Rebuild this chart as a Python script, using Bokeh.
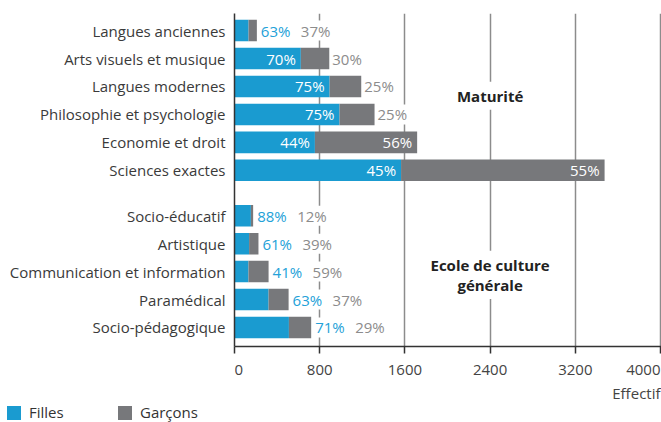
from bokeh.plotting import figure
from bokeh.models import (ColumnDataSource, Range1d, FixedTicker, LabelSet, Label, Div)
from bokeh.layouts import column
from bokeh.core.properties import value
from bokeh.embed import file_html
from bokeh.resources import INLINE

# ---------------- data ----------------
categories_maturite = ["Langues anciennes", "Arts visuels et musique", "Langues modernes",
                       "Philosophie et psychologie", "Economie et droit", "Sciences exactes"]
filles_maturite = [132, 623, 893, 986, 755, 1564]
garcons_maturite = [78, 267, 297, 329, 960, 1911]
pct_filles_maturite = ["63%", "70%", "75%", "75%", "44%", "45%"]
pct_garcons_maturite = ["37%", "30%", "25%", "25%", "56%", "55%"]

categories_ecg = ["Socio-éducatif", "Artistique", "Communication et information",
                  "Paramédical", "Socio-pédagogique"]
filles_ecg = [154, 137, 131, 320, 511]
garcons_ecg = [21, 88, 189, 188, 209]
pct_filles_ecg = ["88%", "61%", "41%", "63%", "71%"]
pct_garcons_ecg = ["12%", "39%", "59%", "37%", "29%"]

x_ticks = [0, 800, 1600, 2400, 3200, 4000]
x_tick_labels = ["0", "800", "1600", "2400", "3200", "4000"]
series_names = ["Filles", "Garçons"]
section_titles = ["Maturité", "Ecole de culture", "générale"]
x_axis_title = "Effectif"

# ---------------- styling / layout ----------------
FONT = "Open Sans"
FS = "15px"
BLUE = "#1a9bd0"
GRAY = "#77787b"
BLUE_TXT = "#23a1d8"
GRAY_TXT = "#8c8c8c"
DARK = "#333333"
GAP = 0.625          # extra space between the two groups (in row units)
INSIDE_MIN = 550     # segment large enough to hold its label inside
Y_TOP = -0.612
Y_BOTTOM = 10.625 + 0.68
W = 661
LEFT = 234
FRAME_W = W - LEFT
X_END = 4000 * FRAME_W / (FRAME_W - 1)
TOP_BORDER_BOTTOM = 12
TOP_H = 13 + 333 + TOP_BORDER_BOTTOM
LEG_H = 20
BOT_H = 422 - TOP_H - LEG_H

names = categories_maturite + categories_ecg
filles = filles_maturite + filles_ecg
garcons = garcons_maturite + garcons_ecg
pf = pct_filles_maturite + pct_filles_ecg
pg = pct_garcons_maturite + pct_garcons_ecg
pos = [float(i) for i in range(len(categories_maturite))] + \
      [len(categories_maturite) + GAP + j for j in range(len(categories_ecg))]
total = [f + g for f, g in zip(filles, garcons)]

src = ColumnDataSource(dict(pos=pos, filles=filles, garcons=garcons, name=names))

x_range = Range1d(0, X_END)
p = figure(width=W, height=TOP_H, output_backend="svg", toolbar_location=None,
           x_range=x_range, y_range=Range1d(Y_BOTTOM, Y_TOP),
           min_border_left=LEFT, min_border_right=0, min_border_top=13,
           min_border_bottom=TOP_BORDER_BOTTOM)
p.outline_line_color = None
p.background_fill_color = "white"
p.border_fill_color = "white"

rs = p.hbar_stack(["filles", "garcons"], y="pos", height=0.77, source=src,
                  fill_color=[BLUE, GRAY], line_color=None)

# axes (x tick labels are drawn in the strip below, so this axis only shows its ticks)
p.xaxis.ticker = FixedTicker(ticks=x_ticks)
p.xaxis.axis_line_color = DARK
p.xaxis.axis_line_width = 1.5
p.xaxis.major_tick_line_color = DARK
p.xaxis.major_tick_line_width = 1.5
p.xaxis.major_tick_out = 7
p.xaxis.major_tick_in = 0
p.xaxis.minor_tick_line_color = None
p.xaxis.major_label_standoff = 0
p.xaxis.major_label_text_font_size = "1px"
p.xaxis.major_label_text_color = None

p.yaxis.ticker = FixedTicker(ticks=pos)
p.yaxis.major_label_overrides = {k: v for k, v in zip(pos, names)}
p.yaxis.axis_line_color = DARK
p.yaxis.axis_line_width = 1.5
p.yaxis.major_tick_line_color = None
p.yaxis.minor_tick_line_color = None
p.yaxis.major_label_standoff = 3
p.yaxis.major_label_text_font = FONT
p.yaxis.major_label_text_font_size = FS
p.yaxis.major_label_text_color = "#3a3a3a"

p.ygrid.grid_line_color = None
p.xgrid.ticker = FixedTicker(ticks=x_ticks[1:])
p.xgrid.grid_line_color = "#8c8c8c"
p.xgrid.grid_line_width = 1.5

# percentage labels
fi = dict(x=[], y=[], t=[])
fo = dict(x=[], y=[], t=[])
gi = dict(x=[], y=[], t=[])
go = dict(x=[], y=[], t=[], xo=[])
for i in range(len(names)):
    if filles[i] >= INSIDE_MIN:
        fi["x"].append(filles[i]); fi["y"].append(pos[i]); fi["t"].append(pf[i])
    else:
        fo["x"].append(total[i]); fo["y"].append(pos[i]); fo["t"].append(pf[i])
    if garcons[i] >= INSIDE_MIN:
        gi["x"].append(total[i]); gi["y"].append(pos[i]); gi["t"].append(pg[i])
    else:
        go["x"].append(total[i]); go["y"].append(pos[i]); go["t"].append(pg[i])
        go["xo"].append(44 if filles[i] < INSIDE_MIN else 3)

common = dict(x="x", y="y", text="t", text_font=value(FONT), text_font_size=value("15px"),
              text_baseline="middle")
p.add_layout(LabelSet(source=ColumnDataSource(fi), x_offset=-5, text_align="right",
                      text_color="white", **common))
p.add_layout(LabelSet(source=ColumnDataSource(gi), x_offset=-5, text_align="right",
                      text_color="white", **common))
p.add_layout(LabelSet(source=ColumnDataSource(fo), x_offset=4, text_align="left",
                      text_color=BLUE_TXT, background_fill_color="white", **common))
p.add_layout(LabelSet(source=ColumnDataSource(go), x_offset="xo", text_align="left",
                      text_color=GRAY_TXT, background_fill_color="white", **common))

# section titles
for txt, yv in zip(section_titles, [2.33, 8.38, 9.1]):
    lb = Label(x=2400, y=yv, text=txt, text_align="center", text_baseline="middle",
               text_font=FONT, text_font_size="15px", text_font_style="bold",
               text_color="#222222", background_fill_color="white")
    if "padding" in lb.properties():
        lb.padding = 4
    p.add_layout(lb)

# ---------------- bottom strip: tick labels and axis title ----------------
p2 = figure(width=W, height=BOT_H, output_backend="svg", toolbar_location=None,
            x_range=x_range, y_range=Range1d(BOT_H, 0),
            x_axis_location=None, y_axis_location=None,
            min_border_left=LEFT, min_border_right=0, min_border_top=0,
            min_border_bottom=0)
p2.outline_line_color = None
p2.grid.grid_line_color = None
p2.background_fill_color = "white"
p2.border_fill_color = "white"

tick_y = 369.5 - TOP_H
title_y = 392 - TOP_H
tick_align = ["left"] + ["center"] * (len(x_ticks) - 2) + ["right"]
tick_src = ColumnDataSource(dict(x=x_ticks, y=[tick_y] * len(x_ticks),
                                 t=x_tick_labels, a=tick_align))
for al in ("left", "center", "right"):
    idx = [i for i, a in enumerate(tick_align) if a == al]
    p2.text(x=[x_ticks[i] for i in idx], y=[tick_y] * len(idx),
            text=[x_tick_labels[i] for i in idx],
            text_align=al, text_baseline="middle", text_font=value(FONT),
            text_font_size=value(FS), text_color="#444444")
p2.text(x=[x_ticks[-1]], y=[title_y], text=[x_axis_title],
        text_align="right", text_baseline="middle", text_font=value(FONT),
        text_font_size=value(FS), text_color="#444444")

# ---------------- legend row ----------------
legend_lefts = [7, 118]
parts = []
for name, color, left in zip(series_names, [BLUE, GRAY], legend_lefts):
    parts.append(
        f'<span style="position:absolute;left:{left}px;top:4px;width:14px;height:14px;'
        f'background:{color};"></span>'
        f'<span style="position:absolute;left:{left + 22}px;top:0;">{name}</span>')
legend_html = (f'<div style="position:relative;width:{W}px;height:{LEG_H}px;'
               f'font-family:\'{FONT}\';font-size:{FS};line-height:{LEG_H}px;'
               f'color:#333333;white-space:nowrap;">' + "".join(parts) + '</div>')
legend_div = Div(text=legend_html, width=W, height=LEG_H, margin=0)

layout = column(p, p2, legend_div, spacing=0)
open("out.html", "w", encoding="utf-8").write(file_html(layout, INLINE))
